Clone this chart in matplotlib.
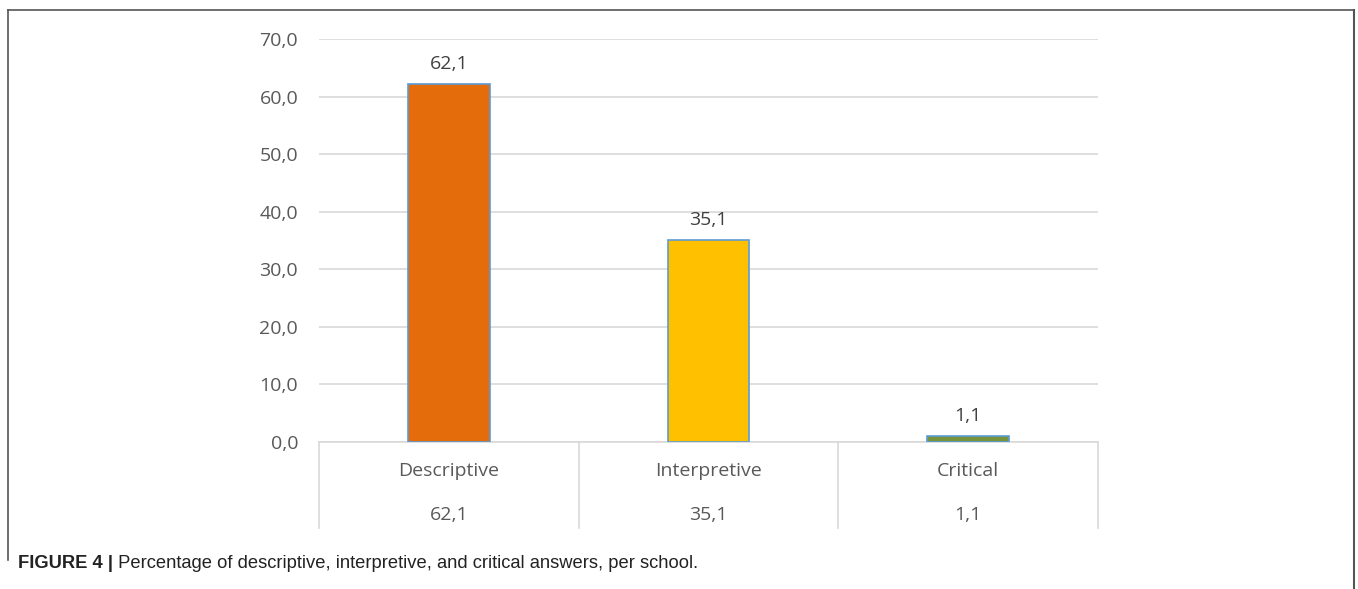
import matplotlib
matplotlib.use("Agg")
import matplotlib.pyplot as plt
from matplotlib.lines import Line2D

categories = ["Descriptive", "Interpretive", "Critical"]
values = [62.1, 35.1, 1.1]
bar_colors = ["#E46C0A", "#FFC000", "#77933C"]
yticks = [0, 10, 20, 30, 40, 50, 60, 70]
caption_bold = "FIGURE 4 |"
caption_text = " Percentage of descriptive, interpretive, and critical answers, per school."

def fmt(v):
    return f"{v:.1f}".replace(".", ",")

W, H = 1358, 589
fig = plt.figure(figsize=(W / 100, H / 100), dpi=100)
ax = fig.add_axes([319 / W, 1 - 442 / H, (1098 - 319) / W, (442 - 39) / H])

font = "Open Sans"
tc = "#595959"
fs = 14
x = list(range(len(categories)))
ax.bar(x, values, width=0.315, color=bar_colors, edgecolor="#5B9BD5", linewidth=1.2, zorder=3)
for xi, v in zip(x, values):
    ax.annotate(fmt(v), (xi, v), xytext=(0, 8), textcoords="offset points",
                ha="center", va="bottom", fontsize=fs, color="#404040", family=font)

ax.set_xlim(-0.5, len(categories) - 0.5)
ax.set_ylim(0, 70)
ax.set_yticks(yticks)
ax.set_yticklabels([fmt(t) for t in yticks], fontsize=fs, color=tc, family=font)
ax.tick_params(axis="y", length=0, pad=15)
ax.set_xticks([])
ax.grid(axis="y", color="#D9D9D9", linewidth=1.2, zorder=0)
for s in ["top", "right", "left"]:
    ax.spines[s].set_visible(False)
ax.spines["bottom"].set_color("#D9D9D9")
ax.spines["bottom"].set_linewidth(1.2)

# data table under axis
tb = -(528 - 442) / (442 - 39)
trans = ax.get_xaxis_transform()
for b in [i - 0.5 for i in range(len(categories) + 1)]:
    ax.add_line(Line2D([b, b], [0, tb], transform=trans, color="#D9D9D9", linewidth=1.2, clip_on=False))
for xi, c, v in zip(x, categories, values):
    ax.text(xi, -(471 - 442) / 403, c, transform=trans, ha="center", va="center",
            fontsize=fs, color=tc, family=font)
    ax.text(xi, -(515 - 442) / 403, fmt(v), transform=trans, ha="center", va="center",
            fontsize=fs, color=tc, family=font)

# outer frame
fc = "#555555"
fig.add_artist(Line2D([8 / W, 1354 / W], [1 - 10 / H, 1 - 10 / H], transform=fig.transFigure, color=fc, linewidth=1.2))
fig.add_artist(Line2D([8 / W, 8 / W], [1 - 10 / H, 1 - 560 / H], transform=fig.transFigure, color=fc, linewidth=1.2))
fig.add_artist(Line2D([1354 / W, 1354 / W], [1 - 10 / H, 0], transform=fig.transFigure, color=fc, linewidth=1.5))

# caption
cfs = 13.2
t1 = fig.text(18 / W, 1 - 563 / H, caption_bold, fontsize=cfs, fontweight="bold",
              family="Liberation Sans", color="#222222", va="center", ha="left")
fig.canvas.draw()
bb = t1.get_window_extent()
fig.text(bb.x1 / W, 1 - 563 / H, caption_text, fontsize=cfs,
         family="Liberation Sans", color="#222222", va="center", ha="left")

fig.savefig("out.png", dpi=100)
